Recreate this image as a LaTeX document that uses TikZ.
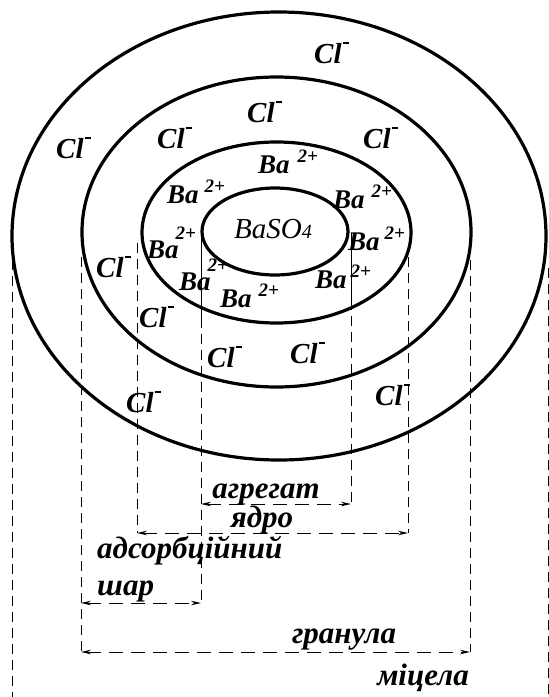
\documentclass[tikz,border=0pt]{standalone}
\usepackage{fontspec}
\setmainfont{Liberation Serif}
\usetikzlibrary{arrows.meta,shapes.geometric}
\tikzset{
  ring/.style={ellipse, draw, line width=3.2pt, inner sep=0pt},
  ion/.style={font=\fontsize{29}{29}\selectfont\bfseries\itshape,
              inner sep=0pt, anchor=base west},
  cat/.style={font=\fontsize{27}{27}\selectfont\bfseries\itshape,
              inner sep=0pt, anchor=base west},
  lbl/.style={font=\fontsize{31}{31}\selectfont\bfseries\itshape, inner sep=0pt},
  guide/.style={line width=0.9pt, dash pattern=on 10pt off 6pt},
  guidesolid/.style={line width=0.9pt},
  dim/.style={{Stealth[length=10pt,width=4.5pt]}-{Stealth[length=10pt,width=4.5pt]},
              line width=0.9pt, dash pattern=on 14pt off 8pt},
}
\newcommand{\Cl}{Cl\kern1pt\raisebox{19pt}{\rule{6pt}{2.2pt}}}
\newcommand{\Ba}[1][6pt]{Ba\kern#1\raisebox{11pt}{\fontsize{19}{19}\selectfont 2+}}
\newcommand{\BaHi}{Ba\kern-3pt\raisebox{19pt}{\fontsize{19}{19}\selectfont 2+}}

\begin{document}
\begin{tikzpicture}[x=1pt,y=-1pt]
  \useasboundingbox (0,0) rectangle (549,697);
  % shells
  \node[ring, minimum width=534pt, minimum height=448pt] (micelle) at (279,236) {};
  \node[ring, minimum width=389pt, minimum height=310pt] (granule) at (276.5,232) {};
  \node[ring, minimum width=269pt, minimum height=181pt] (nucleus) at (276.5,232.5) {};
  \node[ring, minimum width=146pt, minimum height=87pt] (aggregate) at (275,231.5) {};
  \node[font=\fontsize{29}{29}\selectfont\itshape, inner sep=0pt, anchor=base west]
    (baso) at (234,238) {BaSO{\fontsize{20}{20}\selectfont 4}};

  % barium ions
  \node[cat] (ba1) at (258,173) {\Ba[8pt]};
  \node[cat] (ba2) at (167,203) {\Ba[6pt]};
  \node[cat] (ba3) at (333,208) {\Ba[7pt]};
  \node[cat] (ba4) at (147,258) {\BaHi};
  \node[cat] (ba5) at (348,250) {\Ba[5pt]};
  \node[cat] (ba6) at (179,290) {\BaHi};
  \node[cat] (ba7) at (220,307) {\Ba[7pt]};
  \node[cat] (ba8) at (315,288) {\Ba[4pt]};

  % chloride ions
  \node[ion] (cl1) at (314,63) {\Cl};
  \node[ion] (cl2) at (56,158) {\Cl};
  \node[ion] (cl3) at (157,148) {\Cl};
  \node[ion] (cl4) at (247,122) {\Cl};
  \node[ion] (cl5) at (363,148) {\Cl};
  \node[ion] (cl6) at (96,277) {\Cl};
  \node[ion] (cl7) at (139,327) {\Cl};
  \node[ion] (cl8) at (207,367) {\Cl};
  \node[ion] (cl9) at (290,363) {\Cl};
  \node[ion] (cl10) at (126,412) {\Cl};
  \node[ion] (cl11) at (375,405) {\Cl};

  % guide lines
  \coordinate (bottom) at (0,697);
  \coordinate (mcL) at (12,260);   \coordinate (mcR) at (548,268);
  \coordinate (grL) at (81,257);   \coordinate (grR) at (470,260);
  \coordinate (ndL) at (137,243);  \coordinate (ndR) at (408,257);
  \coordinate (agL) at (201,233);  \coordinate (agR) at (351,233);
  \coordinate (agLs) at (201,318); \coordinate (agRs) at (351,300);
  \coordinate (aggA) at (201,504); \coordinate (aggB) at (351,504);
  \coordinate (nucA) at (137,533); \coordinate (nucB) at (408,533);
  \coordinate (layA) at (81,603);  \coordinate (layB) at (201,603);
  \coordinate (graA) at (81,652);  \coordinate (graB) at (470,652);

  \draw[guide] (mcL) -- (mcL |- bottom);
  \draw[guide] (mcR) -- (mcR |- bottom);
  \draw[guide] (grL) -- (graA);
  \draw[guide] (grR) -- (graB);
  \draw[guide] (ndL) -- (nucA);
  \draw[guide] (ndR) -- (nucB);
  \draw[guidesolid] (agL) -- (agLs);
  \draw[guide] (agLs) -- (layB);
  \draw[guidesolid] (agR) -- (agRs);
  \draw[guide] (agRs) -- (aggB);

  % dimensions
  \draw[dim] (aggA) -- (aggB);
  \draw[dim] (nucA) -- (nucB);
  \draw[dim] (layA) -- (layB);
  \draw[dim] (graA) -- (graB);

  \node[lbl, anchor=base] (tagg) at (266,498) {агрегат};
  \node[lbl, anchor=base] (tnuc) at (262,527) {ядро};
  \node[lbl, anchor=base west] (tads) at (97,558) {адсорбційний};
  \node[lbl, anchor=base west] (tlay) at (97,595) {шар};
  \node[lbl, anchor=base] (tgra) at (344,643) {гранула};
  \node[lbl, anchor=base] (tmic) at (423,685) {міцела};
\end{tikzpicture}
\end{document}
